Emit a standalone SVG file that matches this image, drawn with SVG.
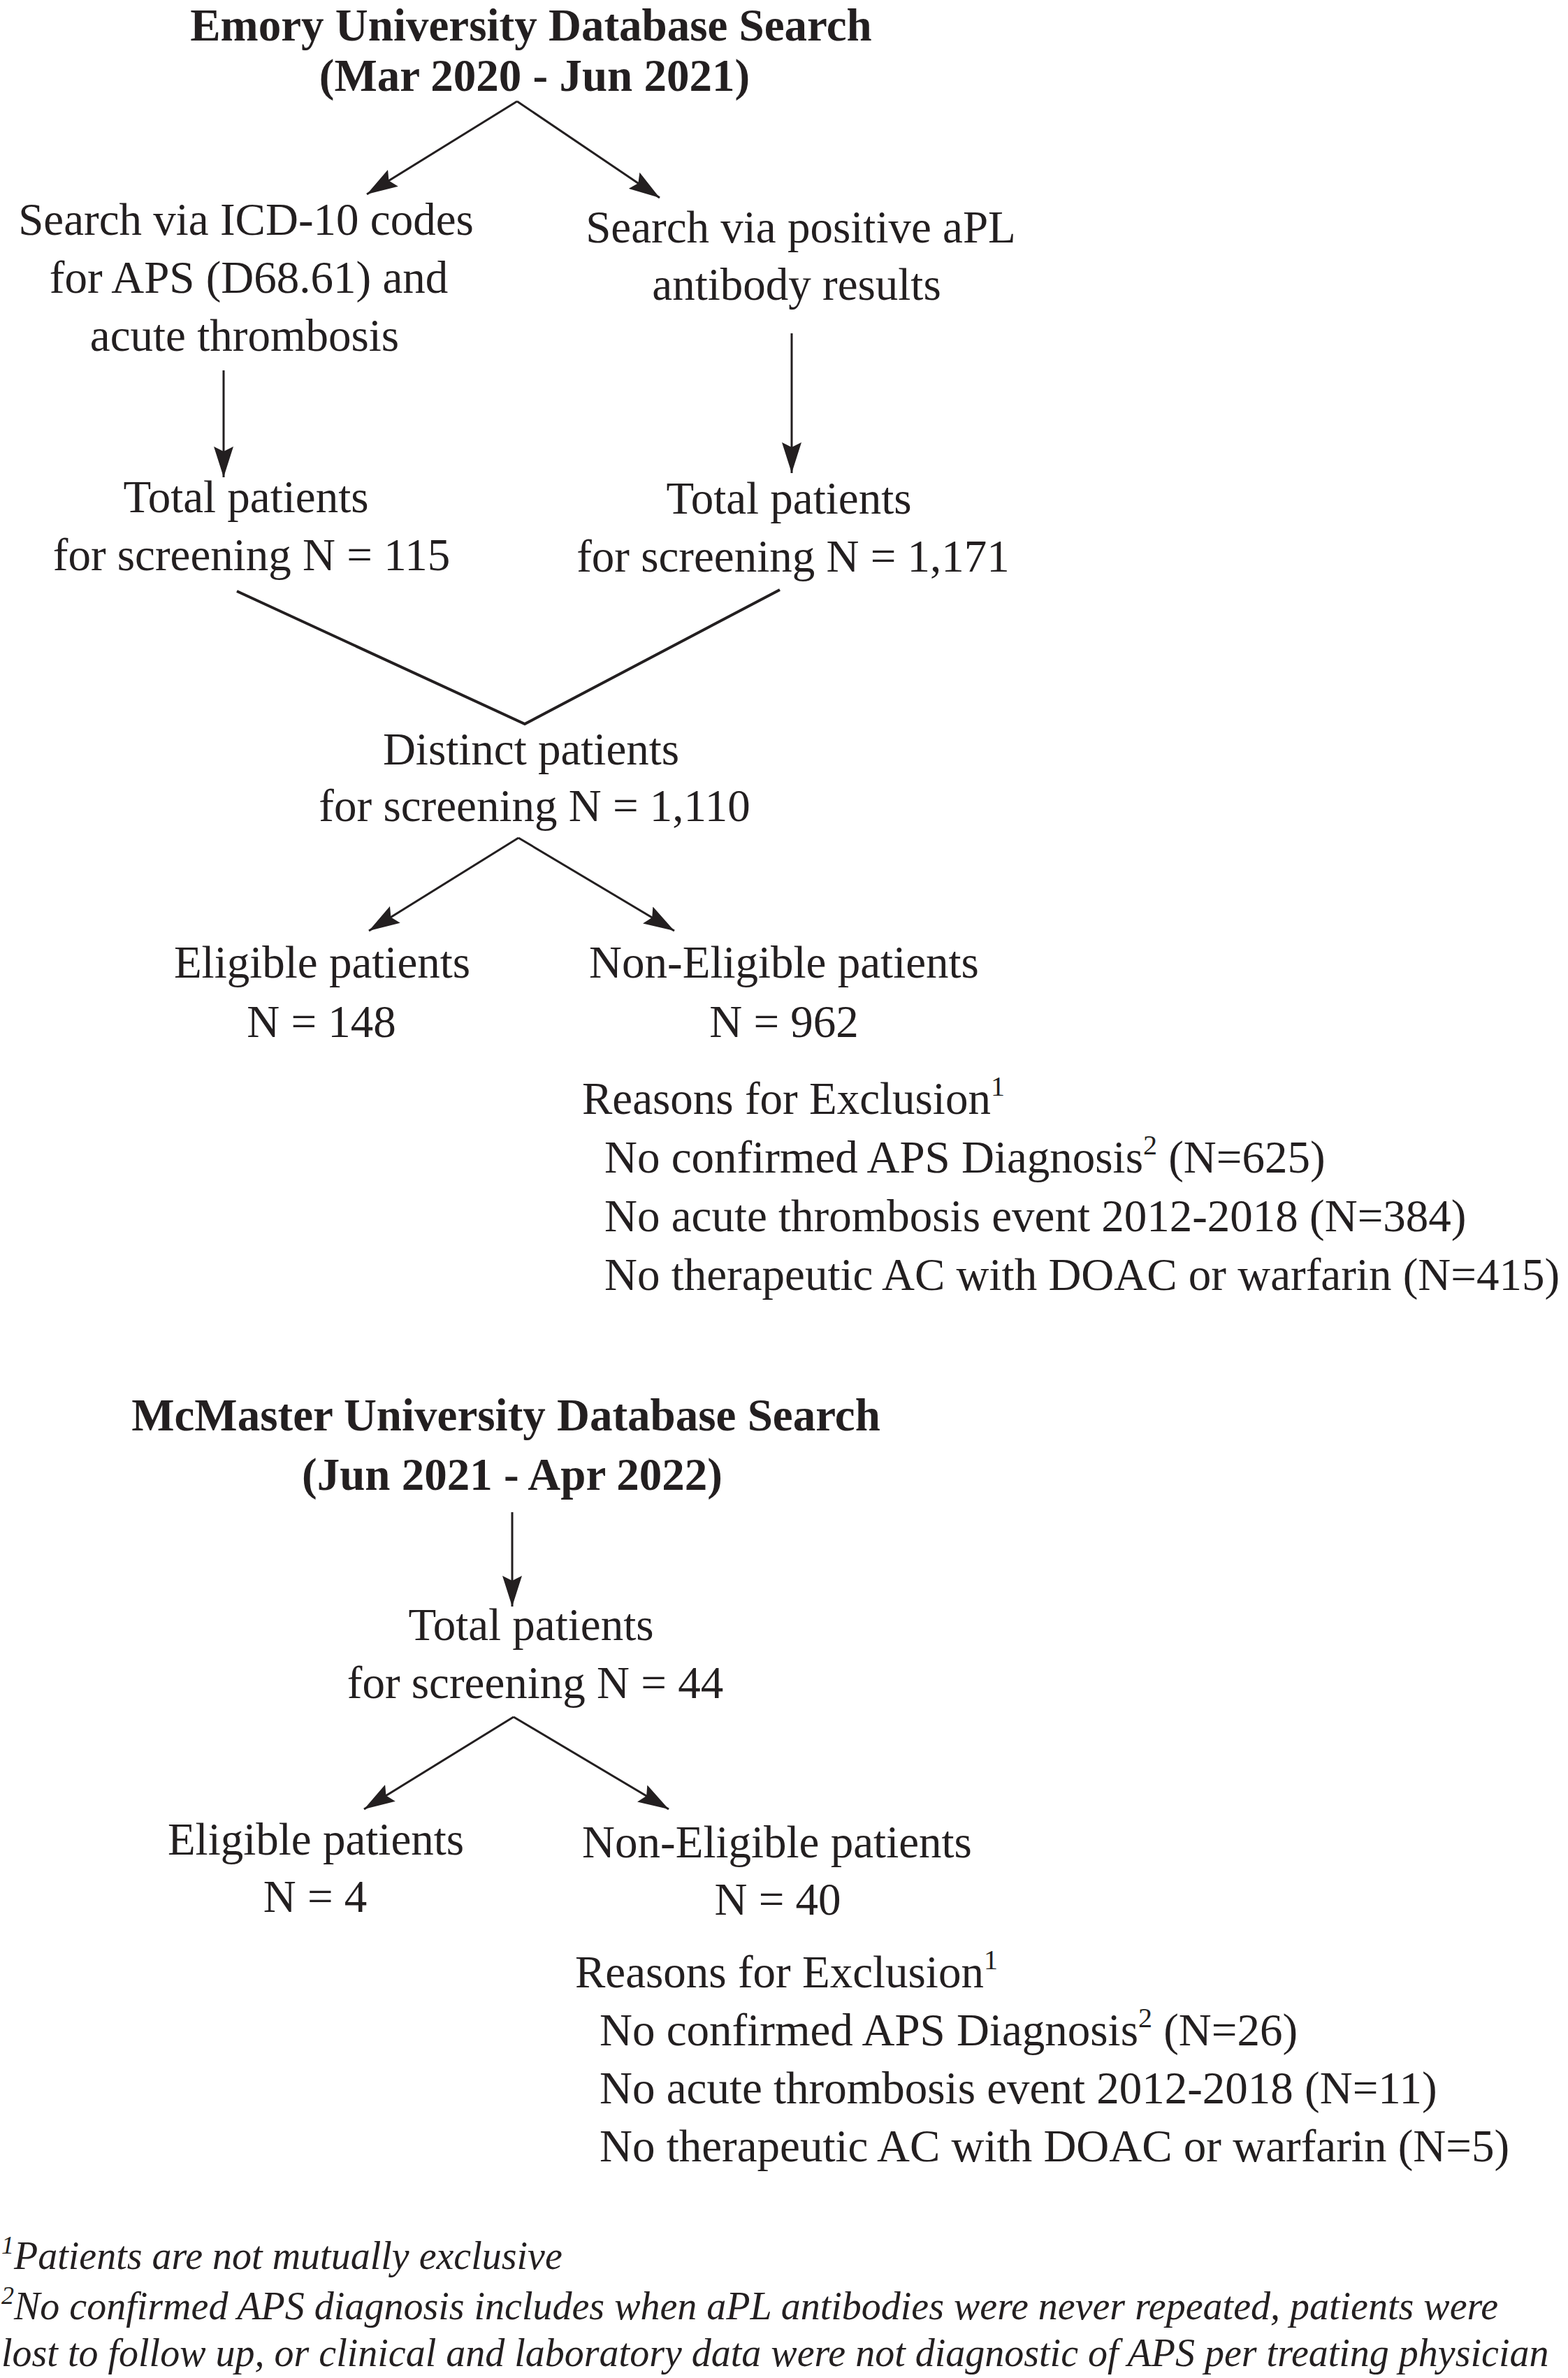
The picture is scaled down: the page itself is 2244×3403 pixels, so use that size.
<svg xmlns="http://www.w3.org/2000/svg" width="2244" height="3403" viewBox="0 0 2244 3403">
<style>
text{font-family:"Liberation Serif","Times New Roman",serif;font-size:65px;fill:#231f20}
.b{font-weight:bold}
.c{text-anchor:middle}
.fn{font-size:56px;font-style:italic}
.ln{stroke:#231f20;stroke-width:3;fill:none}
.v{stroke:#231f20;stroke-width:4;fill:none}
</style>
<defs>
<marker id="ah" viewBox="0 0 44 28" refX="44" refY="14" markerWidth="44" markerHeight="28" markerUnits="userSpaceOnUse" orient="auto">
<path d="M0,0 L44,14 L0,28 L7,14 Z" fill="#231f20"/>
</marker>
</defs>
<rect width="2244" height="3403" fill="#ffffff"/>

<g id="connectors">
<line class="ln" x1="740" y1="145" x2="525" y2="278" marker-end="url(#ah)"/>
<line class="ln" x1="740" y1="145" x2="944" y2="283" marker-end="url(#ah)"/>
<line class="ln" x1="320" y1="530" x2="320" y2="683" marker-end="url(#ah)"/>
<line class="ln" x1="1133" y1="477" x2="1133" y2="677" marker-end="url(#ah)"/>
<polyline class="v" points="339,846 751,1036 1116,844"/>
<line class="ln" x1="742" y1="1199" x2="528" y2="1332" marker-end="url(#ah)"/>
<line class="ln" x1="742" y1="1199" x2="965" y2="1332" marker-end="url(#ah)"/>
<line class="ln" x1="733" y1="2164" x2="733" y2="2299" marker-end="url(#ah)"/>
<line class="ln" x1="735" y1="2457" x2="521" y2="2589" marker-end="url(#ah)"/>
<line class="ln" x1="735" y1="2457" x2="957" y2="2589" marker-end="url(#ah)"/>
</g>

<g id="emory-title">
<text class="b c" x="760" y="58">Emory University Database Search</text>
<text class="b c" x="765" y="130">(Mar 2020 - Jun 2021)</text>
</g>
<g id="icd-search">
<text class="c" x="352" y="336">Search via ICD-10 codes</text>
<text class="c" x="356" y="419">for APS (D68.61) and</text>
<text class="c" x="350" y="502">acute thrombosis</text>
</g>
<g id="apl-search">
<text class="c" x="1146" y="347">Search via positive aPL</text>
<text class="c" x="1140" y="429">antibody results</text>
</g>
<g id="total-icd">
<text class="c" x="352" y="733">Total patients</text>
<text class="c" x="360" y="816">for screening N = 115</text>
</g>
<g id="total-apl">
<text class="c" x="1129" y="735">Total patients</text>
<text class="c" x="1135" y="818">for screening N = 1,171</text>
</g>
<g id="distinct">
<text class="c" x="760" y="1094">Distinct patients</text>
<text class="c" x="765" y="1175">for screening N = 1,110</text>
</g>
<g id="emory-eligible">
<text class="c" x="461" y="1399">Eligible patients</text>
<text class="c" x="460" y="1484">N = 148</text>
</g>
<g id="emory-noneligible">
<text class="c" x="1122" y="1399">Non-Eligible patients</text>
<text class="c" x="1122" y="1484">N = 962</text>
</g>
<g id="emory-reasons">
<text x="833" y="1594">Reasons for Exclusion<tspan dy="-26" font-size="40">1</tspan></text>
<text x="865" y="1678">No confirmed APS Diagnosis<tspan dy="-26" font-size="40">2</tspan><tspan dy="26"> (N=625)</tspan></text>
<text x="865" y="1762">No acute thrombosis event 2012-2018 (N=384)</text>
<text x="865" y="1846">No therapeutic AC with DOAC or warfarin (N=415)</text>
</g>

<g id="mcmaster-title">
<text class="b c" x="724" y="2047">McMaster University Database Search</text>
<text class="b c" x="733" y="2132">(Jun 2021 - Apr 2022)</text>
</g>
<g id="mcmaster-total">
<text class="c" x="760" y="2347">Total patients</text>
<text class="c" x="766" y="2430">for screening N = 44</text>
</g>
<g id="mcmaster-eligible">
<text class="c" x="452" y="2654">Eligible patients</text>
<text class="c" x="451" y="2736">N = 4</text>
</g>
<g id="mcmaster-noneligible">
<text class="c" x="1112" y="2658">Non-Eligible patients</text>
<text class="c" x="1113" y="2740">N = 40</text>
</g>
<g id="mcmaster-reasons">
<text x="823" y="2844">Reasons for Exclusion<tspan dy="-26" font-size="40">1</tspan></text>
<text x="858" y="2927">No confirmed APS Diagnosis<tspan dy="-26" font-size="40">2</tspan><tspan dy="26"> (N=26)</tspan></text>
<text x="858" y="3010">No acute thrombosis event 2012-2018 (N=11)</text>
<text x="858" y="3093">No therapeutic AC with DOAC or warfarin (N=5)</text>
</g>

<g id="footnotes">
<text class="fn" x="2" y="3247"><tspan dy="-22" font-size="36">1</tspan><tspan dy="22">Patients are not mutually exclusive</tspan></text>
<text class="fn" x="2" y="3319"><tspan dy="-22" font-size="36">2</tspan><tspan dy="22">No confirmed APS diagnosis includes when aPL antibodies were never repeated, patients were</tspan></text>
<text class="fn" x="2" y="3386">lost to follow up, or clinical and laboratory data were not diagnostic of APS per treating physician</text>
</g>
</svg>
